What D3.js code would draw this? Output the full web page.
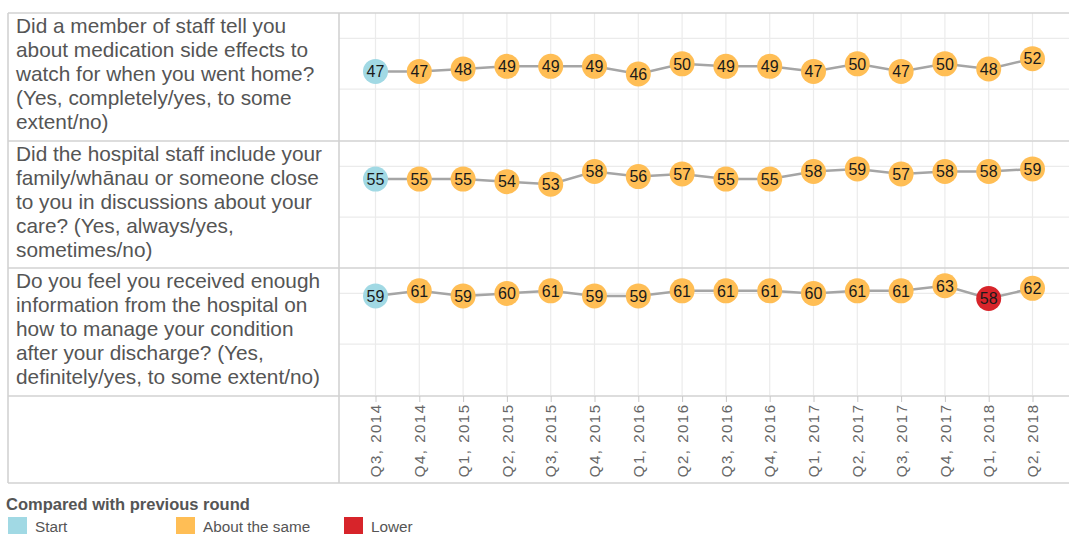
<!DOCTYPE html>
<html>
<head>
<meta charset="utf-8">
<script src="https://cdn.jsdelivr.net/npm/d3@7"></script>
<style>
  html, body { margin: 0; padding: 0; background: #fff; overflow: hidden; }
  svg { display: block; font-family: "Liberation Sans", Arial, sans-serif; }
</style>
</head>
<body>
<svg id="chart" width="1069" height="534"></svg>
<script>
const categories = ["Q3, 2014","Q4, 2014","Q1, 2015","Q2, 2015","Q3, 2015","Q4, 2015","Q1, 2016","Q2, 2016","Q3, 2016","Q4, 2016","Q1, 2017","Q2, 2017","Q3, 2017","Q4, 2017","Q1, 2018","Q2, 2018","Q3, 2018"];

const questions = [
  ["Did a member of staff tell you","about medication side effects to","watch for when you went home?","(Yes, completely/yes, to some","extent/no)"],
  ["Did the hospital staff include your","family/wh\u0101nau or someone close","to you in discussions about your","care? (Yes, always/yes,","sometimes/no)"],
  ["Do you feel you received enough","information from the hospital on","how to manage your condition","after your discharge? (Yes,","definitely/yes, to some extent/no)"]
];

const values1 = [47,47,48,49,49,49,46,50,49,49,47,50,47,50,48,52];
const values2 = [55,55,55,54,53,58,56,57,55,55,58,59,57,58,58,59];
const values3 = [59,61,59,60,61,59,59,61,61,61,60,61,61,63,58,62];

const status1 = ["Start","Same","Same","Same","Same","Same","Same","Same","Same","Same","Same","Same","Same","Same","Same","Same"];
const status2 = ["Start","Same","Same","Same","Same","Same","Same","Same","Same","Same","Same","Same","Same","Same","Same","Same"];
const status3 = ["Start","Same","Same","Same","Same","Same","Same","Same","Same","Same","Same","Same","Same","Same","Lower","Same"];

const legendKeys = ["Start","Same","Lower"];
const legendLabels = ["Start","About the same","Lower"];
const legendTitle = "Compared with previous round";
const yTicks = [40, 60];

const seriesValues = [values1, values2, values3];
const seriesStatus = [status1, status2, status3];

const colour = d3.scaleOrdinal().domain(legendKeys).range(["#a1d9e4", "#ffbe55", "#d7242a"]);

const W = 1069;
const left = 8, divider = 339;
const panelTops = [13, 141, 268];
const panelH = 127;
const axisTop = 396;

const svg = d3.select("#chart");

const x = d3.scalePoint().domain(categories).range([375.5, 375.5 + 16 * 43.8]);

// gridlines
panelTops.forEach((top) => {
  const y = d3.scaleLinear().domain([20, 70]).range([top + panelH, top]);
  const g = svg.append("g");
  g.selectAll("line.h").data(yTicks).join("line")
    .attr("x1", divider).attr("x2", W)
    .attr("y1", d => y(d)).attr("y2", d => y(d))
    .attr("stroke", "#ebebeb").attr("stroke-width", 1.2);
  g.selectAll("line.v").data(categories).join("line")
    .attr("x1", d => x(d)).attr("x2", d => x(d))
    .attr("y1", top).attr("y2", top + panelH)
    .attr("stroke", "#ebebeb").attr("stroke-width", 1.2);
});

// frame lines
const frame = svg.append("g").attr("stroke", "#d2d2d2").attr("stroke-width", 1.6);
[13, 141, 268, 396, 483].forEach(yy => {
  frame.append("line").attr("x1", left).attr("x2", W).attr("y1", yy).attr("y2", yy);
});
frame.append("line").attr("x1", left).attr("x2", left).attr("y1", 13).attr("y2", 483);
frame.append("line").attr("x1", divider).attr("x2", divider).attr("y1", 13).attr("y2", 483);

// question labels
panelTops.forEach((top, i) => {
  const t = svg.append("text")
    .attr("x", 16).attr("y", top + 20)
    .attr("font-size", 20.8).attr("fill", "#555");
  questions[i].forEach((line, j) => {
    t.append("tspan").attr("x", 16).attr("y", top + 20 + j * 24).text(line);
  });
});

// series
panelTops.forEach((top, i) => {
  const y = d3.scaleLinear().domain([20, 70]).range([top + panelH, top]);
  const vals = seriesValues[i];
  const st = seriesStatus[i];
  const data = vals.map((v, k) => ({cat: categories[k], v, s: st[k]}));
  const line = d3.line().x(d => x(d.cat)).y(d => y(d.v));
  svg.append("path").datum(data)
    .attr("d", line).attr("fill", "none")
    .attr("stroke", "#a5a5a5").attr("stroke-width", 2.5);
  const g = svg.append("g");
  g.selectAll("circle").data(data).join("circle")
    .attr("cx", d => x(d.cat)).attr("cy", d => y(d.v))
    .attr("r", 12.5).attr("fill", d => colour(d.s));
  g.selectAll("text").data(data).join("text")
    .attr("x", d => x(d.cat)).attr("y", d => y(d.v))
    .attr("dy", "0.36em").attr("text-anchor", "middle")
    .attr("font-size", 16)
    .attr("font-family", "'Liberation Sans Narrow', 'Liberation Sans', Arial, sans-serif")
    .attr("fill", "#1a1a1a")
    .text(d => d.v);
});

// x axis
const axis = d3.axisTop(x).tickSize(-6).tickPadding(0);
const ax = svg.append("g").attr("transform", `translate(0,${axisTop})`).call(axis);
ax.select(".domain").remove();
ax.selectAll(".tick line").attr("stroke", "#c8c8c8");
ax.selectAll(".tick text")
  .attr("transform", "rotate(-90)")
  .attr("x", -7.5).attr("y", 0).attr("dy", "0.35em")
  .attr("text-anchor", "end")
  .attr("font-size", 15).attr("font-family", "Liberation Sans, Arial, sans-serif")
  .style("letter-spacing", "1.5px")
  .attr("fill", "#666");

// legend
svg.append("text").attr("x", 6).attr("y", 510)
  .attr("font-size", 16.5).attr("font-weight", "bold").attr("fill", "#555")
  .text(legendTitle);
const lx = [8, 176, 344];
const lg = svg.append("g");
legendKeys.forEach((k, i) => {
  lg.append("rect").attr("x", lx[i]).attr("y", 517).attr("width", 19).attr("height", 17)
    .attr("fill", colour(k));
  lg.append("text").attr("x", lx[i] + 27).attr("y", 532)
    .attr("font-size", 15.3).attr("fill", "#555").text(legendLabels[i]);
});
</script>
</body>
</html>
